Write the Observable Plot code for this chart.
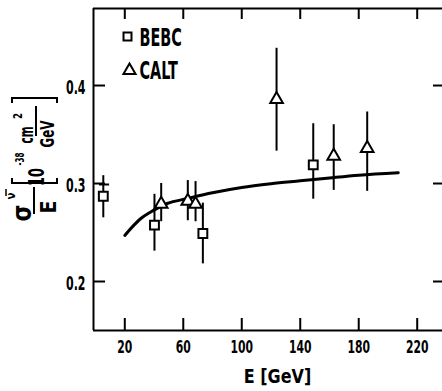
<!DOCTYPE html>
<html><head><meta charset="utf-8">
<script src="https://cdn.jsdelivr.net/npm/d3@7"></script>
<script src="https://cdn.jsdelivr.net/npm/@observablehq/plot@0.6"></script>
<style>html,body{margin:0;padding:0;background:#fff;overflow:hidden}</style>
</head><body><div id="chart"></div>
<script>
const xTicks = [20, 60, 100, 140, 180, 220];
const xTickLabels = ["20", "60", "100", "140", "180", "220"];
const yTicks = [0.2, 0.3, 0.4];
const yTickLabels = ["0.2", "0.3", "0.4"];
const bebcE  = [5.3, 40.3, 73.4, 148.9];
const bebcV  = [0.287, 0.2575, 0.249, 0.319];
const bebcLo = [0.265, 0.231, 0.218, 0.284];
const bebcHi = [0.308, 0.289, 0.280, 0.361];
const caltE  = [44.9, 63.1, 68.4, 123.8, 162.9, 185.8];
const caltV  = [0.279, 0.282, 0.279, 0.386, 0.328, 0.336];
const caltLo = [0.261, 0.262, 0.261, 0.333, 0.293, 0.292];
const caltHi = [0.300, 0.303, 0.302, 0.438, 0.360, 0.373];
const curveE = [20, 25, 31, 38, 49, 63, 80, 100, 120, 140, 160, 180, 207];
const curveV = [0.247, 0.2555, 0.2643, 0.2712, 0.2796, 0.2847, 0.2905, 0.2959, 0.2997, 0.3027, 0.3057, 0.3085, 0.311];
const crossE = [2.7, 9.6];
const crossV = 0.299;
const legendLabels = ["BEBC", "CALT"];
const xLabel = "E [GeV]";
const xDomain = [-1.4, 237.3];
const yDomain = [0.15, 0.4786];

const W = 442, H = 391, mL = 93, mT = 8, mB = 61, mR = 0;
const pw = W - mL - mR, ph = H - mT - mB;

const bebc = bebcE.map((E, i) => ({E, v: bebcV[i], lo: bebcLo[i], hi: bebcHi[i]}));
const calt = caltE.map((E, i) => ({E, v: caltV[i], lo: caltLo[i], hi: caltHi[i]}));
const curve = curveE.map((E, i) => ({E, v: curveV[i]}));
const cross = [{x1: crossE[0], x2: crossE[1], y: crossV}];
const xLab = xTicks.map((x, i) => ({x, t: xTickLabels[i]}));
const yLab = yTicks.map((y, i) => ({y, t: yTickLabels[i]}));

const sw = 2;
const svg = Plot.plot({
  width: W, height: H,
  marginLeft: mL, marginTop: mT, marginBottom: mB, marginRight: mR,
  style: {fontFamily: "DejaVu Sans", background: "white", color: "black"},
  x: {domain: xDomain, axis: null},
  y: {domain: yDomain, axis: null},
  marks: [
    Plot.ruleX([xDomain[0]], {strokeWidth: sw}),
    Plot.ruleY(yDomain, {strokeWidth: sw}),
    Plot.ruleX(xTicks, {insetTop: ph - 12, strokeWidth: sw}),
    Plot.ruleX(xTicks, {insetBottom: ph - 11, strokeWidth: sw}),
    Plot.ruleY(yTicks, {insetRight: pw - 12, strokeWidth: sw}),
    Plot.ruleY(yTicks, {insetLeft: pw - 9, strokeWidth: sw}),
    Plot.text(yLab, {y: "y", text: "t", frameAnchor: "left", textAnchor: "end", lineAnchor: "middle", dx: -8, dy: 2, fontSize: 20, fontWeight: "bold"}),
    Plot.line(curve, {x: "E", y: "v", curve: "monotone-x", strokeWidth: 3}),
    Plot.ruleX(bebc, {x: "E", y1: "lo", y2: "hi", strokeWidth: sw}),
    Plot.ruleX(calt, {x: "E", y1: "lo", y2: "hi", strokeWidth: sw}),
    Plot.ruleY(cross, {x1: "x1", x2: "x2", y: "y", strokeWidth: sw}),
    Plot.dot(bebc, {x: "E", y: "v", symbol: "square", r: 5, stroke: "black", fill: "white", strokeWidth: sw}),
    Plot.dot(calt, {x: "E", y: "v", symbol: "triangle", r: 4.7, stroke: "black", fill: "white", strokeWidth: sw}),
    Plot.dot([legendLabels[0]], {frameAnchor: "top-left", dx: 34, dy: 28, symbol: "square", r: 4.5, stroke: "black", fill: "white", strokeWidth: sw}),
    Plot.dot([legendLabels[1]], {frameAnchor: "top-left", dx: 36, dy: 62, symbol: "triangle", r: 4.5, stroke: "black", fill: "white", strokeWidth: sw}),
    Plot.text([legendLabels[0]], {frameAnchor: "top-left", dx: 46, dy: 30, textAnchor: "start", lineAnchor: "middle", fontSize: 24, fontWeight: "bold"}),
    Plot.text([legendLabels[1]], {frameAnchor: "top-left", dx: 46, dy: 63, textAnchor: "start", lineAnchor: "middle", fontSize: 24, fontWeight: "bold"}),
    Plot.text([xLabel], {frameAnchor: "bottom", dx: 9.5, dy: 52, lineAnchor: "bottom", fontSize: 20, fontWeight: "bold"}),
    Plot.text(xLab, {x: "x", text: "t", frameAnchor: "bottom", lineAnchor: "top", dy: 10, fontSize: 18, fontWeight: "bold"})
  ]
});
document.getElementById("chart").appendChild(svg);

// rotated y-axis label: σ^ν̄ / E [10^-38 cm^2/GeV]
const g = d3.select(svg).append("g").attr("transform", "rotate(-90)")
  .attr("font-family", "DejaVu Sans").attr("font-weight", "bold").attr("fill", "black");
function txt(str, x, y, size, len) {
  const t = g.append("text").attr("x", x).attr("y", y).attr("font-size", size).text(str);
  if (len) t.attr("textLength", len).attr("lengthAdjust", "spacingAndGlyphs");
  return t;
}
function path(d, w = 2) { g.append("path").attr("d", d).attr("fill", "none").attr("stroke", "black").attr("stroke-width", w); }
txt("σ", -213, 31, 26, 17);
txt("ν", -196, 15, 12, 7);
path("M-196,6H-189", 1.5);
path("M-214,34H-187");
txt("E", -207, 56, 21, 13);
path("M-178,12H-183V57H-178");
txt("10", -177, 44, 21, 18);
txt("-38", -159, 24, 12, 13);
txt("cm", -135, 33, 19, 17);
txt("2", -116, 22, 12, 6);
path("M-136,36H-106");
txt("GeV", -134, 54, 19, 27);
path("M-103,12H-98V57H-103");

// condense the plain text marks, then keep tick labels on top
const tickGroups = new Set();
svg.querySelectorAll("text").forEach(t => {
  if (t.closest("g[transform^='rotate']")) return;
  const s = t.textContent;
  let f = 1;
  if (/^[\d.]+$/.test(s)) { f = s.includes(".") ? 0.55 : 0.6; tickGroups.add(t.parentNode); }
  else if (legendLabels.includes(s)) f = 0.6;
  else if (s === xLabel) f = 0.8;
  if (f !== 1) t.setAttribute("transform", (t.getAttribute("transform") || "") + ` scale(${f},1)`);
});
tickGroups.forEach(p => svg.appendChild(p));
</script></body></html>
